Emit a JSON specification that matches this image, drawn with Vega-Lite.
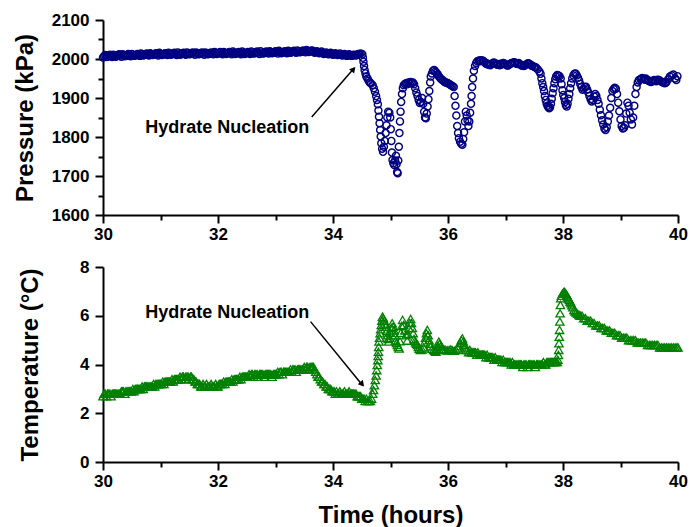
{
"$schema": "https://vega.github.io/schema/vega-lite/v6.json",
"background": "white",
"padding": {"left": 13, "top": 11, "right": 10, "bottom": 2},
"bounds": "flush",
"spacing": 52,
"config": {
 "view": {"stroke": null},
 "font": "Liberation Sans",
 "axis": {"grid": false, "domainColor": "black", "domainWidth": 2, "tickColor": "black", "tickWidth": 2, "labelFont": "Liberation Sans", "labelFontWeight": "bold", "labelFontSize": 17, "labelColor": "black", "titleFont": "Liberation Sans", "titleFontWeight": "bold", "titleFontSize": 24, "titleColor": "black", "labelFlush": false, "labelOverlap": false, "labelBound": false}
},
"vconcat": [
 {
  "width": 575, "height": 195,
  "resolve": {"axis": {"y": "independent"}},
  "layer": [
   {
    "data": {"values": [
{"t":30.00,"p":2004},{"t":30.04,"p":2010},{"t":30.08,"p":2006},{"t":30.12,"p":2011},{"t":30.16,"p":2005},{"t":30.20,"p":2009},{"t":30.24,"p":2007},{"t":30.28,"p":2012},{"t":30.32,"p":2006},{"t":30.36,"p":2010},{"t":30.40,"p":2008},{"t":30.44,"p":2013},{"t":30.48,"p":2007},{"t":30.52,"p":2011},{"t":30.56,"p":2009},{"t":30.60,"p":2013},{"t":30.64,"p":2008},{"t":30.68,"p":2012},{"t":30.72,"p":2010},{"t":30.76,"p":2014},{"t":30.80,"p":2009},{"t":30.84,"p":2013},{"t":30.88,"p":2011},{"t":30.92,"p":2015},{"t":30.96,"p":2009},{"t":31.00,"p":2013},{"t":31.04,"p":2011},{"t":31.08,"p":2015},{"t":31.12,"p":2010},{"t":31.16,"p":2014},{"t":31.20,"p":2012},{"t":31.24,"p":2016},{"t":31.28,"p":2010},{"t":31.32,"p":2014},{"t":31.36,"p":2012},{"t":31.40,"p":2016},{"t":31.44,"p":2011},{"t":31.48,"p":2015},{"t":31.52,"p":2013},{"t":31.56,"p":2017},{"t":31.60,"p":2011},{"t":31.64,"p":2015},{"t":31.68,"p":2013},{"t":31.72,"p":2017},{"t":31.76,"p":2011},{"t":31.80,"p":2015},{"t":31.84,"p":2013},{"t":31.88,"p":2017},{"t":31.92,"p":2012},{"t":31.96,"p":2016},{"t":32.00,"p":2014},{"t":32.04,"p":2018},{"t":32.08,"p":2012},{"t":32.12,"p":2016},{"t":32.16,"p":2014},{"t":32.20,"p":2018},{"t":32.24,"p":2012},{"t":32.28,"p":2016},{"t":32.32,"p":2014},{"t":32.36,"p":2018},{"t":32.40,"p":2012},{"t":32.44,"p":2016},{"t":32.48,"p":2014},{"t":32.52,"p":2018},{"t":32.56,"p":2013},{"t":32.60,"p":2017},{"t":32.64,"p":2015},{"t":32.68,"p":2019},{"t":32.72,"p":2013},{"t":32.76,"p":2017},{"t":32.80,"p":2015},{"t":32.84,"p":2019},{"t":32.88,"p":2014},{"t":32.92,"p":2018},{"t":32.96,"p":2016},{"t":33.00,"p":2020},{"t":33.04,"p":2014},{"t":33.08,"p":2018},{"t":33.12,"p":2016},{"t":33.16,"p":2020},{"t":33.20,"p":2015},{"t":33.24,"p":2019},{"t":33.28,"p":2017},{"t":33.32,"p":2021},{"t":33.36,"p":2016},{"t":33.40,"p":2020},{"t":33.44,"p":2018},{"t":33.48,"p":2022},{"t":33.52,"p":2017},{"t":33.56,"p":2021},{"t":33.60,"p":2019},{"t":33.64,"p":2022},{"t":33.68,"p":2016},{"t":33.72,"p":2020},{"t":33.76,"p":2015},{"t":33.80,"p":2019},{"t":33.84,"p":2013},{"t":33.88,"p":2017},{"t":33.92,"p":2012},{"t":33.96,"p":2016},{"t":34.00,"p":2011},{"t":34.04,"p":2015},{"t":34.08,"p":2010},{"t":34.12,"p":2014},{"t":34.16,"p":2009},{"t":34.20,"p":2013},{"t":34.24,"p":2008},{"t":34.28,"p":2012},{"t":34.32,"p":2008},{"t":34.36,"p":2011},{"t":34.40,"p":2009},{"t":34.44,"p":2013},{"t":34.48,"p":2014},{"t":34.51,"p":2012},
{"t":30.02,"p":2008},{"t":30.06,"p":2005},{"t":30.10,"p":2009},{"t":30.14,"p":2007},{"t":30.18,"p":2011},{"t":30.22,"p":2006},{"t":30.26,"p":2010},{"t":30.30,"p":2009},{"t":30.34,"p":2012},{"t":30.38,"p":2007},{"t":30.42,"p":2010},{"t":30.46,"p":2009},{"t":30.50,"p":2013},{"t":30.54,"p":2008},{"t":30.58,"p":2011},{"t":30.62,"p":2010},{"t":30.66,"p":2014},{"t":30.70,"p":2009},{"t":30.74,"p":2012},{"t":30.78,"p":2011},{"t":30.82,"p":2015},{"t":30.86,"p":2010},{"t":30.90,"p":2013},{"t":30.94,"p":2012},{"t":30.98,"p":2016},{"t":31.02,"p":2010},{"t":31.06,"p":2013},{"t":31.10,"p":2012},{"t":31.14,"p":2016},{"t":31.18,"p":2011},{"t":31.22,"p":2014},{"t":31.26,"p":2013},{"t":31.30,"p":2017},{"t":31.34,"p":2011},{"t":31.38,"p":2014},{"t":31.42,"p":2013},{"t":31.46,"p":2017},{"t":31.50,"p":2012},{"t":31.54,"p":2015},{"t":31.58,"p":2014},{"t":31.62,"p":2017},{"t":31.66,"p":2012},{"t":31.70,"p":2015},{"t":31.74,"p":2014},{"t":31.78,"p":2017},{"t":31.82,"p":2012},{"t":31.86,"p":2015},{"t":31.90,"p":2014},{"t":31.94,"p":2018},{"t":31.98,"p":2013},{"t":32.02,"p":2016},{"t":32.06,"p":2015},{"t":32.10,"p":2018},{"t":32.14,"p":2013},{"t":32.18,"p":2016},{"t":32.22,"p":2015},{"t":32.26,"p":2019},{"t":32.30,"p":2013},{"t":32.34,"p":2016},{"t":32.38,"p":2015},{"t":32.42,"p":2019},{"t":32.46,"p":2013},{"t":32.50,"p":2016},{"t":32.54,"p":2015},{"t":32.58,"p":2019},{"t":32.62,"p":2014},{"t":32.66,"p":2017},{"t":32.70,"p":2016},{"t":32.74,"p":2020},{"t":32.78,"p":2014},{"t":32.82,"p":2017},{"t":32.86,"p":2016},{"t":32.90,"p":2020},{"t":32.94,"p":2015},{"t":32.98,"p":2018},{"t":33.02,"p":2017},{"t":33.06,"p":2021},{"t":33.10,"p":2015},{"t":33.14,"p":2018},{"t":33.18,"p":2017},{"t":33.22,"p":2021},{"t":33.26,"p":2016},{"t":33.30,"p":2019},{"t":33.34,"p":2018},{"t":33.38,"p":2022},{"t":33.42,"p":2017},{"t":33.46,"p":2020},{"t":33.50,"p":2019},{"t":33.54,"p":2023},{"t":33.58,"p":2018},{"t":33.62,"p":2021},{"t":33.66,"p":2019},{"t":33.70,"p":2018},{"t":33.74,"p":2017},{"t":33.78,"p":2016},{"t":33.82,"p":2016},{"t":33.86,"p":2014},{"t":33.90,"p":2014},{"t":33.94,"p":2013},{"t":33.98,"p":2013},{"t":34.02,"p":2012},{"t":34.06,"p":2012},{"t":34.10,"p":2011},{"t":34.14,"p":2011},{"t":34.18,"p":2010},{"t":34.22,"p":2010},{"t":34.26,"p":2010},{"t":34.30,"p":2010},{"t":34.34,"p":2009},{"t":34.38,"p":2010},{"t":34.42,"p":2011},{"t":34.46,"p":2012},
{"t":34.52,"p":2003},{"t":34.53,"p":1993},{"t":34.54,"p":1982},{"t":34.55,"p":1972},{"t":34.565,"p":1963},{"t":34.58,"p":1955},{"t":34.60,"p":1950},{"t":34.62,"p":1944},{"t":34.64,"p":1940},{"t":34.66,"p":1937},{"t":34.69,"p":1933},{"t":34.71,"p":1925},{"t":34.73,"p":1916},{"t":34.75,"p":1905},{"t":34.765,"p":1895},{"t":34.78,"p":1884},{"t":34.79,"p":1868},{"t":34.80,"p":1852},{"t":34.81,"p":1835},{"t":34.82,"p":1818},{"t":34.83,"p":1801},{"t":34.84,"p":1784},{"t":34.855,"p":1770},{"t":34.87,"p":1762},{"t":34.885,"p":1775},{"t":34.90,"p":1790},{"t":34.915,"p":1810},{"t":34.93,"p":1830},{"t":34.945,"p":1850},{"t":34.96,"p":1865},{"t":34.98,"p":1862},{"t":34.995,"p":1850},{"t":35.005,"p":1820},{"t":35.015,"p":1790},{"t":35.025,"p":1760},{"t":35.035,"p":1741},{"t":35.05,"p":1733},{"t":35.065,"p":1728},{"t":35.08,"p":1740},{"t":35.095,"p":1752},{"t":35.105,"p":1730},{"t":35.115,"p":1710},{"t":35.125,"p":1707},{"t":35.135,"p":1740},{"t":35.145,"p":1775},{"t":35.155,"p":1810},{"t":35.165,"p":1840},{"t":35.175,"p":1865},{"t":35.185,"p":1890},{"t":35.20,"p":1910},{"t":35.215,"p":1925},{"t":35.23,"p":1933},{"t":35.25,"p":1936},{"t":35.27,"p":1938},{"t":35.29,"p":1935},{"t":35.31,"p":1940},{"t":35.33,"p":1937},{"t":35.35,"p":1941},{"t":35.37,"p":1938},{"t":35.39,"p":1940},{"t":35.41,"p":1935},{"t":35.43,"p":1925},{"t":35.45,"p":1914},{"t":35.47,"p":1905},{"t":35.49,"p":1895},{"t":35.51,"p":1887},{"t":35.53,"p":1890},{"t":35.55,"p":1900},{"t":35.57,"p":1885},{"t":35.585,"p":1865},{"t":35.60,"p":1850},{"t":35.615,"p":1848},{"t":35.63,"p":1860},{"t":35.645,"p":1878},{"t":35.66,"p":1897},{"t":35.675,"p":1918},{"t":35.69,"p":1940},{"t":35.70,"p":1955},{"t":35.72,"p":1963},{"t":35.74,"p":1970},{"t":35.76,"p":1972},{"t":35.78,"p":1968},{"t":35.80,"p":1965},{"t":35.82,"p":1961},{"t":35.84,"p":1956},{"t":35.86,"p":1952},{"t":35.88,"p":1949},{"t":35.90,"p":1946},{"t":35.92,"p":1944},{"t":35.94,"p":1941},{"t":35.96,"p":1940},{"t":35.98,"p":1939},{"t":36.00,"p":1938},{"t":36.02,"p":1936},{"t":36.04,"p":1934},{"t":36.06,"p":1932},{"t":36.08,"p":1930},{"t":36.10,"p":1928},{"t":36.115,"p":1905},{"t":36.13,"p":1880},{"t":36.145,"p":1855},{"t":36.16,"p":1828},{"t":36.175,"p":1810},{"t":36.19,"p":1797},{"t":36.21,"p":1788},{"t":36.23,"p":1783},{"t":36.25,"p":1780},{"t":36.265,"p":1795},{"t":36.28,"p":1812},{"t":36.295,"p":1840},{"t":36.31,"p":1865},{"t":36.325,"p":1855},{"t":36.34,"p":1842},{"t":36.355,"p":1828},{"t":36.37,"p":1840},{"t":36.385,"p":1862},{"t":36.40,"p":1885},{"t":36.41,"p":1905},{"t":36.42,"p":1928},{"t":36.435,"p":1950},{"t":36.45,"p":1970},{"t":36.47,"p":1982},{"t":36.49,"p":1990},{"t":36.51,"p":1994},{"t":36.54,"p":1996},{"t":36.57,"p":1997},{"t":36.60,"p":1996},{"t":36.63,"p":1992},{"t":36.66,"p":1988},{"t":36.69,"p":1986},{"t":36.72,"p":1985},{"t":36.75,"p":1987},{"t":36.78,"p":1989},{"t":36.81,"p":1990},{"t":36.84,"p":1988},{"t":36.87,"p":1986},{"t":36.90,"p":1984},{"t":36.93,"p":1986},{"t":36.96,"p":1990},{"t":36.99,"p":1988},{"t":37.02,"p":1985},{"t":37.05,"p":1984},{"t":37.08,"p":1987},{"t":37.11,"p":1990},{"t":37.14,"p":1991},{"t":37.17,"p":1989},{"t":37.20,"p":1988},{"t":37.23,"p":1990},{"t":37.26,"p":1986},{"t":37.29,"p":1983},{"t":37.32,"p":1982},{"t":37.35,"p":1985},{"t":37.38,"p":1988},{"t":37.41,"p":1988},{"t":37.44,"p":1985},{"t":37.47,"p":1982},{"t":37.50,"p":1980},{"t":37.53,"p":1978},{"t":37.56,"p":1974},{"t":37.59,"p":1968},{"t":37.61,"p":1962},{"t":37.625,"p":1950},{"t":37.64,"p":1938},{"t":37.655,"p":1928},{"t":37.67,"p":1918},{"t":37.685,"p":1905},{"t":37.70,"p":1895},{"t":37.715,"p":1886},{"t":37.73,"p":1880},{"t":37.745,"p":1876},{"t":37.76,"p":1874},{"t":37.775,"p":1876},{"t":37.79,"p":1885},{"t":37.805,"p":1898},{"t":37.82,"p":1912},{"t":37.835,"p":1925},{"t":37.85,"p":1938},{"t":37.865,"p":1948},{"t":37.88,"p":1955},{"t":37.90,"p":1959},{"t":37.92,"p":1958},{"t":37.94,"p":1956},{"t":37.96,"p":1950},{"t":37.975,"p":1935},{"t":37.99,"p":1920},{"t":38.005,"p":1908},{"t":38.02,"p":1900},{"t":38.035,"p":1890},{"t":38.05,"p":1882},{"t":38.065,"p":1878},{"t":38.08,"p":1885},{"t":38.095,"p":1898},{"t":38.11,"p":1910},{"t":38.125,"p":1925},{"t":38.14,"p":1938},{"t":38.16,"p":1950},{"t":38.18,"p":1958},{"t":38.20,"p":1962},{"t":38.22,"p":1963},{"t":38.24,"p":1958},{"t":38.26,"p":1952},{"t":38.28,"p":1945},{"t":38.30,"p":1936},{"t":38.32,"p":1928},{"t":38.34,"p":1921},{"t":38.36,"p":1924},{"t":38.38,"p":1928},{"t":38.40,"p":1929},{"t":38.42,"p":1922},{"t":38.44,"p":1914},{"t":38.46,"p":1905},{"t":38.48,"p":1897},{"t":38.50,"p":1891},{"t":38.52,"p":1895},{"t":38.54,"p":1904},{"t":38.56,"p":1910},{"t":38.58,"p":1905},{"t":38.60,"p":1895},{"t":38.62,"p":1885},{"t":38.64,"p":1870},{"t":38.66,"p":1856},{"t":38.68,"p":1843},{"t":38.70,"p":1832},{"t":38.72,"p":1822},{"t":38.74,"p":1818},{"t":38.76,"p":1825},{"t":38.78,"p":1840},{"t":38.80,"p":1855},{"t":38.82,"p":1875},{"t":38.84,"p":1900},{"t":38.86,"p":1918},{"t":38.88,"p":1923},{"t":38.90,"p":1926},{"t":38.92,"p":1924},{"t":38.94,"p":1910},{"t":38.96,"p":1888},{"t":38.98,"p":1866},{"t":39.00,"p":1845},{"t":39.02,"p":1828},{"t":39.04,"p":1822},{"t":39.06,"p":1824},{"t":39.08,"p":1830},{"t":39.10,"p":1860},{"t":39.12,"p":1888},{"t":39.14,"p":1880},{"t":39.16,"p":1862},{"t":39.18,"p":1845},{"t":39.20,"p":1832},{"t":39.22,"p":1850},{"t":39.24,"p":1880},{"t":39.26,"p":1910},{"t":39.28,"p":1928},{"t":39.30,"p":1940},{"t":39.32,"p":1946},{"t":39.35,"p":1948},{"t":39.38,"p":1951},{"t":39.41,"p":1949},{"t":39.44,"p":1950},{"t":39.47,"p":1946},{"t":39.50,"p":1943},{"t":39.53,"p":1941},{"t":39.56,"p":1944},{"t":39.59,"p":1946},{"t":39.62,"p":1943},{"t":39.65,"p":1947},{"t":39.68,"p":1945},{"t":39.71,"p":1942},{"t":39.74,"p":1940},{"t":39.77,"p":1938},{"t":39.80,"p":1941},{"t":39.83,"p":1948},{"t":39.86,"p":1955},{"t":39.89,"p":1958},{"t":39.92,"p":1960},{"t":39.95,"p":1950},{"t":39.97,"p":1946},{"t":39.99,"p":1956},
{"t":36.555,"p":1994},{"t":36.615,"p":1995},{"t":36.675,"p":1989},{"t":36.735,"p":1984},{"t":36.795,"p":1991},{"t":36.855,"p":1985},{"t":36.915,"p":1988},{"t":36.975,"p":1987},{"t":37.035,"p":1983},{"t":37.095,"p":1989},{"t":37.155,"p":1992},{"t":37.215,"p":1987},{"t":37.275,"p":1984},{"t":37.335,"p":1984},{"t":37.395,"p":1989},{"t":37.455,"p":1983},{"t":37.515,"p":1979},{"t":39.365,"p":1950},{"t":39.425,"p":1947},{"t":39.485,"p":1945},{"t":39.545,"p":1942},{"t":39.605,"p":1945},{"t":39.665,"p":1946},{"t":39.725,"p":1941},{"t":39.785,"p":1939}
    ]},
    "mark": {"type": "point", "shape": "circle", "filled": false, "size": 50, "strokeWidth": 1.4, "color": "#000080", "opacity": 1},
    "encoding": {
     "x": {"field": "t", "type": "quantitative", "scale": {"domain": [30, 40], "nice": false, "zero": false},
       "axis": {"title": null, "format": "d", "labelOverlap": false, "labelFlush": false, "values": [30,31,32,33,34,35,36,37,38,39,40], "labelExpr": "datum.value % 2 === 0 ? datum.label : ''", "tickSize": {"condition": {"test": "datum.value % 2 === 1", "value": 5}, "value": 8}, "labelPadding": 3}},
     "y": {"field": "p", "type": "quantitative", "scale": {"domain": [1600, 2100], "nice": false, "zero": false},
       "axis": {"title": "Pressure (kPa)", "format": "d", "labelOverlap": false, "values": [1600,1700,1800,1900,2000,2100], "tickSize": 8, "labelPadding": 6, "titlePadding": 14}}
    }
   },
   {
    "data": {"values": [{"t1": 33.63, "p1": 1851, "t2": 34.37, "p2": 1977}]},
    "mark": {"type": "rule", "strokeWidth": 1.5, "color": "black"},
    "encoding": {"x": {"field": "t1", "type": "quantitative"}, "y": {"field": "p1", "type": "quantitative", "axis": {"orient": "left", "values": [1650,1750,1850,1950,2050], "labels": false, "title": null, "domain": false, "tickSize": 5, "offset": 0}}, "x2": {"field": "t2"}, "y2": {"field": "p2"}}
   },
   {
    "data": {"values": [{"t": 34.356, "p": 1974}]},
    "mark": {"type": "point", "shape": "triangle-up", "filled": true, "color": "black", "size": 45, "angle": 41, "opacity": 1},
    "encoding": {"x": {"field": "t", "type": "quantitative"}, "y": {"field": "p", "type": "quantitative", "axis": null}}
   },
   {
    "data": {"values": [{"t": 32.16, "p": 1823, "label": "Hydrate Nucleation"}]},
    "mark": {"type": "text", "fontSize": 18, "fontWeight": "bold", "font": "Liberation Sans", "color": "black", "baseline": "middle", "align": "center"},
    "encoding": {"x": {"field": "t", "type": "quantitative"}, "y": {"field": "p", "type": "quantitative", "axis": null}, "text": {"field": "label"}}
   }
  ]
 },
 {
  "width": 575, "height": 195,
  "layer": [
   {
    "data": {"values": [
{"t":30.00,"c":2.7},{"t":30.02,"c":2.8},{"t":30.04,"c":2.8},{"t":30.06,"c":2.7},{"t":30.08,"c":2.8},{"t":30.10,"c":2.8},{"t":30.12,"c":2.8},{"t":30.14,"c":2.7},{"t":30.16,"c":2.8},{"t":30.18,"c":2.8},{"t":30.20,"c":2.8},{"t":30.22,"c":2.8},{"t":30.24,"c":2.8},{"t":30.26,"c":2.8},{"t":30.28,"c":2.8},{"t":30.30,"c":2.8},{"t":30.32,"c":2.9},{"t":30.34,"c":2.9},{"t":30.36,"c":2.9},{"t":30.38,"c":2.8},{"t":30.40,"c":2.9},{"t":30.42,"c":2.9},{"t":30.44,"c":2.9},{"t":30.46,"c":2.9},{"t":30.48,"c":2.9},{"t":30.50,"c":2.9},{"t":30.52,"c":3.0},{"t":30.54,"c":2.9},{"t":30.56,"c":3.0},{"t":30.58,"c":3.0},{"t":30.60,"c":3.0},{"t":30.62,"c":3.0},{"t":30.64,"c":3.0},{"t":30.66,"c":3.0},{"t":30.68,"c":3.1},{"t":30.70,"c":3.0},{"t":30.72,"c":3.1},{"t":30.74,"c":3.1},{"t":30.76,"c":3.1},{"t":30.78,"c":3.1},{"t":30.80,"c":3.1},{"t":30.82,"c":3.1},{"t":30.84,"c":3.1},{"t":30.86,"c":3.1},{"t":30.88,"c":3.2},{"t":30.90,"c":3.1},{"t":30.92,"c":3.2},{"t":30.94,"c":3.2},{"t":30.96,"c":3.2},{"t":30.98,"c":3.2},{"t":31.00,"c":3.2},{"t":31.02,"c":3.2},{"t":31.04,"c":3.3},{"t":31.06,"c":3.2},{"t":31.08,"c":3.3},{"t":31.10,"c":3.3},{"t":31.12,"c":3.3},{"t":31.14,"c":3.3},{"t":31.16,"c":3.3},{"t":31.18,"c":3.3},{"t":31.20,"c":3.4},{"t":31.22,"c":3.3},{"t":31.24,"c":3.4},{"t":31.26,"c":3.4},{"t":31.28,"c":3.4},{"t":31.30,"c":3.4},{"t":31.32,"c":3.4},{"t":31.34,"c":3.5},{"t":31.36,"c":3.4},{"t":31.38,"c":3.5},{"t":31.40,"c":3.5},{"t":31.42,"c":3.4},{"t":31.44,"c":3.5},{"t":31.46,"c":3.5},{"t":31.48,"c":3.5},{"t":31.50,"c":3.4},{"t":31.52,"c":3.5},{"t":31.54,"c":3.5},{"t":31.56,"c":3.4},{"t":31.58,"c":3.4},{"t":31.60,"c":3.3},{"t":31.62,"c":3.3},{"t":31.64,"c":3.2},{"t":31.66,"c":3.2},{"t":31.68,"c":3.2},{"t":31.70,"c":3.1},{"t":31.72,"c":3.1},{"t":31.74,"c":3.2},{"t":31.76,"c":3.1},{"t":31.78,"c":3.1},{"t":31.80,"c":3.2},{"t":31.82,"c":3.1},{"t":31.84,"c":3.1},{"t":31.86,"c":3.1},{"t":31.88,"c":3.2},{"t":31.90,"c":3.1},{"t":31.92,"c":3.1},{"t":31.94,"c":3.1},{"t":31.96,"c":3.2},{"t":31.98,"c":3.1},{"t":32.00,"c":3.1},{"t":32.02,"c":3.2},{"t":32.04,"c":3.2},{"t":32.06,"c":3.2},{"t":32.08,"c":3.2},{"t":32.10,"c":3.3},{"t":32.12,"c":3.2},{"t":32.14,"c":3.3},{"t":32.16,"c":3.3},{"t":32.18,"c":3.3},{"t":32.20,"c":3.3},{"t":32.22,"c":3.3},{"t":32.24,"c":3.4},{"t":32.26,"c":3.3},{"t":32.28,"c":3.4},{"t":32.30,"c":3.4},{"t":32.32,"c":3.4},{"t":32.34,"c":3.4},{"t":32.36,"c":3.4},{"t":32.38,"c":3.5},{"t":32.40,"c":3.4},{"t":32.42,"c":3.5},{"t":32.44,"c":3.5},{"t":32.46,"c":3.5},{"t":32.48,"c":3.5},{"t":32.50,"c":3.5},{"t":32.52,"c":3.5},{"t":32.54,"c":3.6},{"t":32.56,"c":3.5},{"t":32.58,"c":3.6},{"t":32.60,"c":3.6},{"t":32.62,"c":3.5},{"t":32.64,"c":3.6},{"t":32.66,"c":3.6},{"t":32.68,"c":3.6},{"t":32.70,"c":3.5},{"t":32.72,"c":3.6},{"t":32.74,"c":3.6},{"t":32.76,"c":3.6},{"t":32.78,"c":3.6},{"t":32.80,"c":3.5},{"t":32.82,"c":3.6},{"t":32.84,"c":3.6},{"t":32.86,"c":3.6},{"t":32.88,"c":3.6},{"t":32.90,"c":3.6},{"t":32.92,"c":3.6},{"t":32.94,"c":3.5},{"t":32.96,"c":3.6},{"t":32.98,"c":3.6},{"t":33.00,"c":3.6},{"t":33.02,"c":3.6},{"t":33.04,"c":3.7},{"t":33.06,"c":3.6},{"t":33.08,"c":3.7},{"t":33.10,"c":3.7},{"t":33.12,"c":3.6},{"t":33.14,"c":3.7},{"t":33.16,"c":3.7},{"t":33.18,"c":3.7},{"t":33.20,"c":3.7},{"t":33.22,"c":3.7},{"t":33.24,"c":3.7},{"t":33.26,"c":3.8},{"t":33.28,"c":3.7},{"t":33.30,"c":3.8},{"t":33.32,"c":3.8},{"t":33.34,"c":3.8},{"t":33.36,"c":3.7},{"t":33.38,"c":3.8},{"t":33.40,"c":3.8},{"t":33.42,"c":3.8},{"t":33.44,"c":3.8},{"t":33.46,"c":3.8},{"t":33.48,"c":3.8},{"t":33.50,"c":3.9},{"t":33.52,"c":3.8},{"t":33.54,"c":3.9},{"t":33.56,"c":3.9},{"t":33.58,"c":3.8},{"t":33.60,"c":3.9},{"t":33.62,"c":3.9},{"t":33.64,"c":3.9},{"t":33.66,"c":3.9},{"t":33.68,"c":3.8},{"t":33.70,"c":3.7},{"t":33.72,"c":3.6},{"t":33.74,"c":3.5},{"t":33.76,"c":3.5},{"t":33.78,"c":3.4},{"t":33.80,"c":3.3},{"t":33.82,"c":3.3},{"t":33.84,"c":3.2},{"t":33.86,"c":3.2},{"t":33.88,"c":3.1},{"t":33.90,"c":3.1},{"t":33.92,"c":3.0},{"t":33.94,"c":3.0},{"t":33.96,"c":3.0},{"t":33.98,"c":2.9},{"t":34.00,"c":2.9},{"t":34.02,"c":2.9},{"t":34.04,"c":2.8},{"t":34.06,"c":2.9},{"t":34.08,"c":2.8},{"t":34.10,"c":2.8},{"t":34.12,"c":2.9},{"t":34.14,"c":2.8},{"t":34.16,"c":2.8},{"t":34.18,"c":2.8},{"t":34.20,"c":2.9},{"t":34.22,"c":2.8},{"t":34.24,"c":2.8},{"t":34.26,"c":2.8},{"t":34.28,"c":2.9},{"t":34.30,"c":2.8},{"t":34.32,"c":2.8},{"t":34.34,"c":2.8},{"t":34.36,"c":2.8},{"t":34.38,"c":2.8},{"t":34.40,"c":2.8},{"t":34.42,"c":2.7},{"t":34.44,"c":2.7},{"t":34.46,"c":2.7},{"t":34.48,"c":2.7},{"t":34.50,"c":2.6},{"t":34.52,"c":2.6},{"t":34.54,"c":2.6},{"t":34.56,"c":2.5},{"t":34.58,"c":2.6},{"t":34.60,"c":2.5},{"t":34.62,"c":2.5},
{"t":34.65,"c":2.5},{"t":34.67,"c":2.6},{"t":34.69,"c":2.8},{"t":34.705,"c":2.95},{"t":34.72,"c":3.15},{"t":34.735,"c":3.36},{"t":34.75,"c":3.55},{"t":34.76,"c":3.77},{"t":34.77,"c":3.98},{"t":34.78,"c":4.18},{"t":34.785,"c":4.35},{"t":34.79,"c":4.52},{"t":34.795,"c":4.72},{"t":34.80,"c":4.94},{"t":34.81,"c":5.1},{"t":34.82,"c":5.28},{"t":34.83,"c":5.45},{"t":34.84,"c":5.62},{"t":34.85,"c":5.8},{"t":34.86,"c":5.96},{"t":34.875,"c":5.9},{"t":34.89,"c":5.8},{"t":34.905,"c":5.68},{"t":34.92,"c":5.55},{"t":34.935,"c":5.38},{"t":34.95,"c":5.2},{"t":34.96,"c":5.05},{"t":34.97,"c":4.94},{"t":34.985,"c":5.1},{"t":35.00,"c":5.3},{"t":35.015,"c":5.5},{"t":35.03,"c":5.69},{"t":35.045,"c":5.55},{"t":35.06,"c":5.4},{"t":35.075,"c":5.2},{"t":35.09,"c":4.98},{"t":35.105,"c":4.88},{"t":35.12,"c":4.8},{"t":35.135,"c":4.72},{"t":35.15,"c":4.66},{"t":35.165,"c":4.95},{"t":35.18,"c":5.3},{"t":35.195,"c":5.58},{"t":35.21,"c":5.83},{"t":35.23,"c":5.62},{"t":35.25,"c":5.4},{"t":35.27,"c":5.2},{"t":35.29,"c":4.98},{"t":35.305,"c":5.25},{"t":35.32,"c":5.5},{"t":35.335,"c":5.7},{"t":35.35,"c":5.87},{"t":35.365,"c":5.7},{"t":35.38,"c":5.5},{"t":35.395,"c":5.28},{"t":35.41,"c":5.05},{"t":35.425,"c":4.97},{"t":35.44,"c":4.9},{"t":35.455,"c":4.85},{"t":35.47,"c":4.8},{"t":35.485,"c":4.72},{"t":35.50,"c":4.65},{"t":35.52,"c":4.6},{"t":35.55,"c":4.62},{"t":35.575,"c":4.7},{"t":35.59,"c":4.9},{"t":35.61,"c":5.1},{"t":35.625,"c":5.28},{"t":35.64,"c":5.42},{"t":35.655,"c":5.2},{"t":35.67,"c":5.0},{"t":35.685,"c":4.85},{"t":35.70,"c":4.75},{"t":35.725,"c":4.65},{"t":35.75,"c":4.6},{"t":35.77,"c":4.55},{"t":35.79,"c":4.52},{"t":35.805,"c":4.65},{"t":35.82,"c":4.75},{"t":35.84,"c":4.94},{"t":35.855,"c":4.85},{"t":35.87,"c":4.75},{"t":35.885,"c":4.65},{"t":35.90,"c":4.6},{"t":35.93,"c":4.62},{"t":35.96,"c":4.6},{"t":35.99,"c":4.58},{"t":36.02,"c":4.6},{"t":36.05,"c":4.62},{"t":36.08,"c":4.58},{"t":36.11,"c":4.56},{"t":36.14,"c":4.6},{"t":36.17,"c":4.66},{"t":36.19,"c":4.75},{"t":36.21,"c":4.88},{"t":36.23,"c":5.0},{"t":36.25,"c":5.07},{"t":36.265,"c":4.95},{"t":36.28,"c":4.8},{"t":36.295,"c":4.7},{"t":36.31,"c":4.6},
{"t":36.34,"c":4.6},{"t":36.36,"c":4.5},{"t":36.38,"c":4.6},{"t":36.40,"c":4.5},{"t":36.42,"c":4.5},{"t":36.44,"c":4.5},{"t":36.46,"c":4.5},{"t":36.48,"c":4.5},{"t":36.50,"c":4.4},{"t":36.52,"c":4.5},{"t":36.54,"c":4.4},{"t":36.56,"c":4.4},{"t":36.58,"c":4.4},{"t":36.60,"c":4.4},{"t":36.62,"c":4.4},{"t":36.64,"c":4.4},{"t":36.66,"c":4.3},{"t":36.68,"c":4.4},{"t":36.70,"c":4.3},{"t":36.72,"c":4.3},{"t":36.74,"c":4.3},{"t":36.76,"c":4.3},{"t":36.78,"c":4.3},{"t":36.80,"c":4.2},{"t":36.82,"c":4.3},{"t":36.84,"c":4.2},{"t":36.86,"c":4.2},{"t":36.88,"c":4.2},{"t":36.90,"c":4.2},{"t":36.92,"c":4.2},{"t":36.94,"c":4.1},{"t":36.96,"c":4.2},{"t":36.98,"c":4.1},{"t":37.00,"c":4.1},{"t":37.02,"c":4.1},{"t":37.04,"c":4.1},{"t":37.06,"c":4.1},{"t":37.08,"c":4.1},{"t":37.10,"c":4.0},{"t":37.12,"c":4.1},{"t":37.14,"c":4.0},{"t":37.16,"c":4.0},{"t":37.18,"c":4.0},{"t":37.20,"c":4.0},{"t":37.22,"c":4.0},{"t":37.24,"c":4.0},{"t":37.26,"c":4.0},{"t":37.28,"c":4.0},{"t":37.30,"c":3.9},{"t":37.32,"c":4.0},{"t":37.34,"c":4.0},{"t":37.36,"c":4.0},{"t":37.38,"c":3.9},{"t":37.40,"c":4.0},{"t":37.42,"c":4.0},{"t":37.44,"c":4.0},{"t":37.46,"c":4.0},{"t":37.48,"c":4.0},{"t":37.50,"c":4.0},{"t":37.52,"c":3.9},{"t":37.54,"c":4.0},{"t":37.56,"c":4.0},{"t":37.58,"c":4.0},{"t":37.60,"c":4.0},{"t":37.62,"c":4.0},{"t":37.64,"c":4.0},{"t":37.66,"c":4.1},{"t":37.68,"c":4.0},{"t":37.70,"c":4.0},{"t":37.72,"c":4.1},{"t":37.74,"c":4.1},{"t":37.76,"c":4.1},{"t":37.78,"c":4.1},{"t":37.80,"c":4.1},{"t":37.82,"c":4.1},{"t":37.84,"c":4.1},{"t":37.86,"c":4.1},{"t":37.88,"c":4.1},{"t":37.90,"c":4.1},
{"t":37.91,"c":4.2},{"t":37.92,"c":4.39},{"t":37.925,"c":4.6},{"t":37.93,"c":4.87},{"t":37.935,"c":5.14},{"t":37.94,"c":5.42},{"t":37.945,"c":5.76},{"t":37.95,"c":6.1},{"t":37.955,"c":6.44},{"t":37.96,"c":6.72},{"t":37.975,"c":6.82},{"t":37.99,"c":6.9},{"t":38.005,"c":6.95},{"t":38.02,"c":6.99},{"t":38.035,"c":6.95},{"t":38.05,"c":6.9},{"t":38.065,"c":6.84},{"t":38.08,"c":6.78},{"t":38.095,"c":6.71},{"t":38.11,"c":6.65},{"t":38.125,"c":6.58},{"t":38.14,"c":6.51},{"t":38.155,"c":6.43},{"t":38.17,"c":6.35},{"t":38.19,"c":6.24},{"t":38.21,"c":6.18},{"t":38.23,"c":6.13},{"t":38.255,"c":6.08},{"t":38.28,"c":6.03},
{"t":38.30,"c":6.0},{"t":38.33,"c":6.0},{"t":38.36,"c":5.9},{"t":38.39,"c":5.9},{"t":38.42,"c":5.8},{"t":38.45,"c":5.8},{"t":38.48,"c":5.8},{"t":38.51,"c":5.7},{"t":38.54,"c":5.7},{"t":38.57,"c":5.6},{"t":38.60,"c":5.6},{"t":38.63,"c":5.6},{"t":38.66,"c":5.5},{"t":38.69,"c":5.5},{"t":38.72,"c":5.5},{"t":38.75,"c":5.4},{"t":38.78,"c":5.4},{"t":38.81,"c":5.4},{"t":38.84,"c":5.3},{"t":38.87,"c":5.3},{"t":38.90,"c":5.3},{"t":38.93,"c":5.2},{"t":38.96,"c":5.2},{"t":38.99,"c":5.2},{"t":39.02,"c":5.1},{"t":39.05,"c":5.1},{"t":39.08,"c":5.1},{"t":39.11,"c":5.1},{"t":39.14,"c":5.0},{"t":39.17,"c":5.0},{"t":39.20,"c":5.0},{"t":39.23,"c":5.0},{"t":39.26,"c":5.0},{"t":39.29,"c":4.9},{"t":39.32,"c":4.9},{"t":39.35,"c":4.9},{"t":39.38,"c":4.9},{"t":39.41,"c":4.9},{"t":39.44,"c":4.9},{"t":39.47,"c":4.8},{"t":39.50,"c":4.8},{"t":39.53,"c":4.8},{"t":39.56,"c":4.8},{"t":39.59,"c":4.8},{"t":39.62,"c":4.8},{"t":39.65,"c":4.8},{"t":39.68,"c":4.7},{"t":39.71,"c":4.7},{"t":39.74,"c":4.7},{"t":39.77,"c":4.7},{"t":39.80,"c":4.7},{"t":39.83,"c":4.7},{"t":39.86,"c":4.7},{"t":39.89,"c":4.7},{"t":39.92,"c":4.7},{"t":39.95,"c":4.7},{"t":39.98,"c":4.7},{"t":40.00,"c":4.7}
    ]},
    "mark": {"type": "point", "shape": "triangle-up", "filled": false, "size": 70, "strokeWidth": 1.3, "color": "#008000", "opacity": 1},
    "encoding": {
     "x": {"field": "t", "type": "quantitative", "scale": {"domain": [30, 40], "nice": false, "zero": false},
       "axis": {"title": "Time (hours)", "format": "d", "labelOverlap": false, "labelFlush": false, "values": [30,31,32,33,34,35,36,37,38,39,40], "labelExpr": "datum.value % 2 === 0 ? datum.label : ''", "tickSize": {"condition": {"test": "datum.value % 2 === 1", "value": 5}, "value": 8}, "labelPadding": 3, "titlePadding": 14}},
     "y": {"field": "c", "type": "quantitative", "scale": {"domain": [0, 8], "nice": false},
       "axis": {"title": "Temperature (°C)", "format": "d", "labelOverlap": false, "values": [0,1,2,3,4,5,6,7,8], "labelExpr": "datum.value % 2 === 0 ? datum.label : ''", "tickSize": {"condition": {"test": "datum.value % 2 === 1", "value": 5}, "value": 8}, "labelPadding": 6, "titlePadding": 37}}
    }
   },
   {
    "data": {"values": [{"t1": 33.61, "c1": 5.76, "t2": 34.52, "c2": 3.13}]},
    "mark": {"type": "rule", "strokeWidth": 1.5, "color": "black"},
    "encoding": {"x": {"field": "t1", "type": "quantitative"}, "y": {"field": "c1", "type": "quantitative"}, "x2": {"field": "t2"}, "y2": {"field": "c2"}}
   },
   {
    "data": {"values": [{"t": 34.507, "c": 3.19}]},
    "mark": {"type": "point", "shape": "triangle-up", "filled": true, "color": "black", "size": 45, "angle": 140, "opacity": 1},
    "encoding": {"x": {"field": "t", "type": "quantitative"}, "y": {"field": "c", "type": "quantitative"}}
   },
   {
    "data": {"values": [{"t": 32.16, "c": 6.11, "label": "Hydrate Nucleation"}]},
    "mark": {"type": "text", "fontSize": 18, "fontWeight": "bold", "font": "Liberation Sans", "color": "black", "baseline": "middle", "align": "center"},
    "encoding": {"x": {"field": "t", "type": "quantitative"}, "y": {"field": "c", "type": "quantitative"}, "text": {"field": "label"}}
   }
  ]
 }
]
}
